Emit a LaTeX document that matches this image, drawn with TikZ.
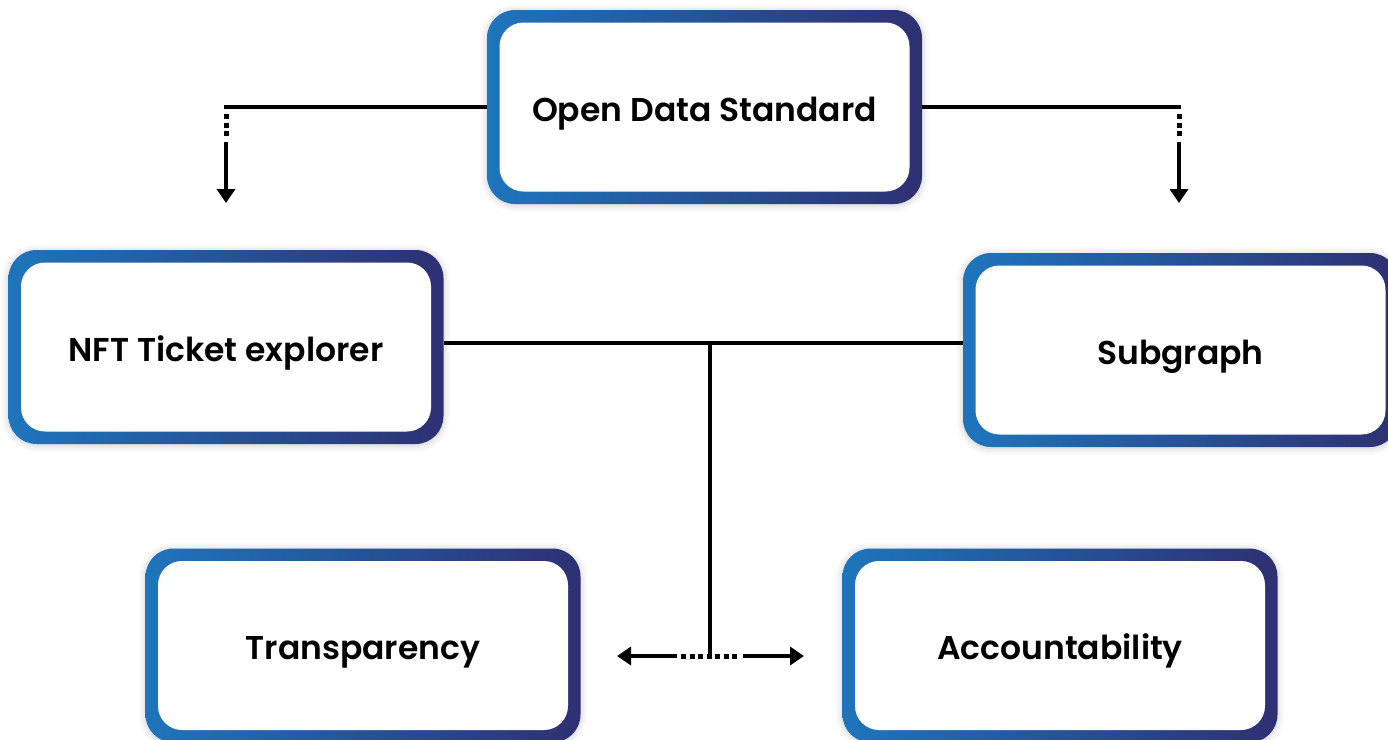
\documentclass[tikz,border=0pt]{standalone}
\usepackage{fontspec}
\setmainfont{Poppins}
\newfontfamily\labelfont{Poppins SemiBold}
\usetikzlibrary{arrows.meta,shadows.blur,calc}
\definecolor{frameL}{HTML}{1E75BC}
\definecolor{frameR}{HTML}{2E3072}
\tikzset{
  frame/.style={rectangle, rounded corners=28pt, left color=frameL, right color=frameR,
    draw=none, minimum width=435pt, minimum height=194pt,
    blur shadow={shadow xshift=0pt, shadow yshift=-1pt, shadow blur radius=7pt, shadow opacity=22}},
  face/.style={rectangle, rounded corners=24pt, fill=white, draw=none,
    minimum width=410pt, minimum height=169pt, text height=28pt, text depth=0pt,
    font=\labelfont\fontsize{33}{38}\selectfont},
  link/.style={line width=4pt, black},
  dots/.style={line width=5pt, black, dash pattern=on 5pt off 3.5pt},
  tip/.style={line width=4pt, black, -{Triangle[width=18pt,length=14pt]}},
}
\begin{document}
\begin{tikzpicture}[x=1pt,y=-1pt]
\useasboundingbox (0,0) rectangle (1388,739);

% boxes: gradient frame with a white face on top
\node[frame] (ods) at (704.5,107) {};
\node[face] (ods-t) at (ods) {Open Data Standard};

\node[frame] (nft) at (226,347) {};
\node[face] (nft-t) at (nft) {NFT Ticket explorer};

\node[frame] (sub) at (1180.5,350) {};
\node[face] (sub-t) at (sub) {Subgraph};

\node[frame] (tra) at (363,645.5) {};
\node[face] (tra-t) at (tra) {Transparency};

\node[frame] (acc) at (1060,645.5) {};
\node[face] (acc-t) at (acc) {Accountability};

% branches from the top box
\coordinate (l-turn) at (226,107);
\coordinate (l-dot1) at (226,114);
\coordinate (l-dot2) at (226,138);
\coordinate (l-arr)  at (226,142);
\coordinate (l-end)  at (226,203);
\draw[link] (ods.west) -- (l-turn) -- ++(0,2);
\draw[dots] (l-dot1) -- (l-dot2);
\draw[tip] (l-arr) -- (l-end);

\coordinate (r-turn) at (1179,107);
\coordinate (r-dot1) at (1179,114);
\coordinate (r-dot2) at (1179,138);
\coordinate (r-arr)  at (1179,142);
\coordinate (r-end)  at (1179,203);
\draw[link] (ods.east) -- (r-turn) -- ++(0,2);
\draw[dots] (r-dot1) -- (r-dot2);
\draw[tip] (r-arr) -- (r-end);

% middle bus and the split below it
\coordinate (hub) at (710,343);
\coordinate (foot) at (710,656);
\draw[link] (nft.east |- hub) -- (sub.west |- hub);
\draw[link] (hub) -- (foot);
\coordinate (f-l1) at (677,656);
\coordinate (f-l2) at (617,656);
\coordinate (f-r1) at (743,656);
\coordinate (f-r2) at (804,656);
\draw[dots] (681,656) -- (740,656);
\draw[tip] (f-l1) -- (f-l2);
\draw[tip] (f-r1) -- (f-r2);
\end{tikzpicture}
\end{document}
